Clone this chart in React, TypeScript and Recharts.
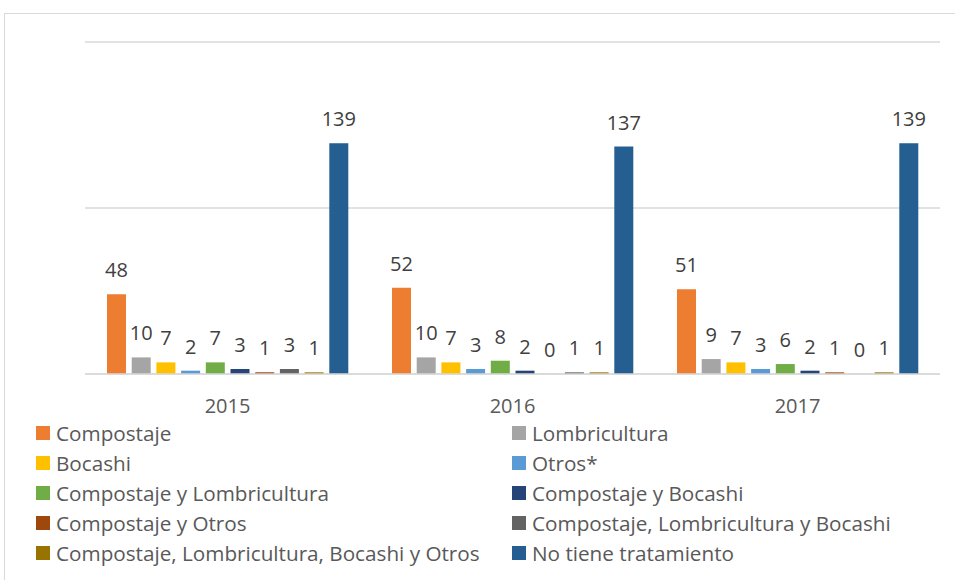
import { Bar, BarChart, CartesianGrid, LabelList, XAxis, YAxis } from "recharts"

const years = ["2015", "2016", "2017"]

const seriesNames = [
  "Compostaje",
  "Lombricultura",
  "Bocashi",
  "Otros*",
  "Compostaje y Lombricultura",
  "Compostaje y Bocashi",
  "Compostaje y Otros",
  "Compostaje, Lombricultura y Bocashi",
  "Compostaje, Lombricultura, Bocashi y Otros",
  "No tiene tratamiento",
]

const seriesColors = [
  "#ED7D31",
  "#A5A5A5",
  "#FFC000",
  "#5B9BD5",
  "#70AD47",
  "#264478",
  "#9E480E",
  "#636363",
  "#997300",
  "#255E91",
]

// values per year, in series order
const values2015 = [48, 10, 7, 2, 7, 3, 1, 3, 1, 139]
const values2016 = [52, 10, 7, 3, 8, 2, 0, 1, 1, 137]
const values2017 = [51, 9, 7, 3, 6, 2, 1, 0, 1, 139]

const yTicks = [0, 100, 200]

const byYear = [values2015, values2016, values2017]
const data = years.map((year, i) => {
  const row: Record<string, string | number> = { year }
  seriesNames.forEach((name, j) => {
    row[`s${j}`] = byYear[i][j]
  })
  return row
})

const font = "'Open Sans', sans-serif"

function LegendBlock() {
  return (
    <div
      style={{
        position: "absolute",
        left: 36,
        top: 418,
        width: 900,
        display: "grid",
        gridTemplateColumns: "476px 420px",
        fontFamily: font,
        fontSize: 20.7,
        color: "#595959",
      }}
    >
      {seriesNames.map((name, i) => (
        <div key={name} style={{ display: "flex", alignItems: "center", height: 30 }}>
          <span
            style={{
              display: "inline-block",
              width: 14,
              height: 14,
              background: seriesColors[i],
              marginRight: 6,
            }}
          />
          <span style={{ whiteSpace: "nowrap" }}>{name}</span>
        </div>
      ))}
    </div>
  )
}

export default function App() {
  return (
    <div style={{ position: "absolute", left: 0, top: 0, width: 955, height: 580, overflow: "hidden", background: "#fff" }}>
      <div
        style={{
          position: "absolute",
          left: 4,
          top: 13,
          width: 1000,
          height: 700,
          border: "1px solid #d9d9d9",
        }}
      />
      <div style={{ position: "absolute", left: 0, top: 0 }}>
        <BarChart
          width={955}
          height={580}
          data={data}
          margin={{ top: 42, right: 15, left: 85, bottom: 176 }}
          barSize={19}
          barGap={5.7}
        >
          <CartesianGrid vertical={false} stroke="#d9d9d9" strokeWidth={1.3} />
          <YAxis hide domain={[0, 200]} ticks={yTicks} />
          <XAxis
            dataKey="year"
            axisLine={{ stroke: "#d9d9d9", strokeWidth: 1.3 }}
            tickLine={false}
            tickMargin={19}
            tick={{ fill: "#595959", fontSize: 20, fontFamily: font }}
          />
          {seriesNames.map((name, i) => (
            <Bar
              key={name}
              dataKey={`s${i}`}
              name={name}
              fill={seriesColors[i]}
              minPointSize={0.1}
              isAnimationActive={false}
            >
              <LabelList
                dataKey={`s${i}`}
                position="top"
                offset={17}
                style={{ fill: "#404040", fontSize: 20, fontFamily: font }}
              />
            </Bar>
          ))}
        </BarChart>
      </div>
      <LegendBlock />
    </div>
  )
}
